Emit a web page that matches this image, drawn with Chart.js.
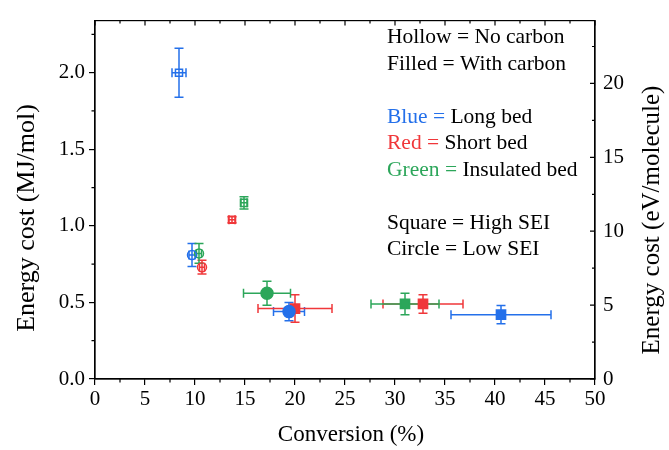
<!DOCTYPE html>
<html>
<head>
<meta charset="utf-8">
<script src="https://cdn.jsdelivr.net/npm/chart.js@4/dist/chart.umd.min.js"></script>
<style>
  html, body { margin: 0; padding: 0; background: #fff; }
  #wrap { width: 669px; height: 450px; }
</style>
</head>
<body>
<div id="wrap"><canvas id="costChart"></canvas></div>
<script>
// Data (one entry per point)
const bed = ['long', 'long', 'long', 'long', 'short', 'short', 'short', 'short', 'insulated', 'insulated', 'insulated', 'insulated'];
const withCarbon = [false, false, true, true, false, false, true, true, false, false, true, true];
const sei = ['high', 'low', 'low', 'high', 'high', 'low', 'high', 'high', 'high', 'low', 'low', 'high'];
const conversion = [8.4, 9.7, 19.4, 40.6, 13.7, 10.7, 20.0, 32.8, 14.9, 10.4, 17.2, 31.0];
const conversionErr = [0.7, 0.3, 1.55, 5.0, 0.3, 0.25, 3.7, 4.0, 0.3, 0.25, 2.35, 3.4];
const energyCost = [2.0, 0.81, 0.44, 0.42, 1.04, 0.73, 0.46, 0.49, 1.15, 0.82, 0.56, 0.49];
const energyErr = [0.16, 0.075, 0.06, 0.06, 0.02, 0.045, 0.09, 0.06, 0.04, 0.065, 0.078, 0.07];

const xTicks = [0, 5, 10, 15, 20, 25, 30, 35, 40, 45, 50];
const yTicks = [0.0, 0.5, 1.0, 1.5, 2.0];
const evTicks = [0, 5, 10, 15, 20];

const Y_MAX = 2.34;
const MJ_PER_EV = 0.096485; // 1 eV/molecule = 96.485 kJ/mol

const bedColors = { long: '#2470ea', short: '#f0373a', insulated: '#2ca65a' };
const bedNames = { long: 'Long bed', short: 'Short bed', insulated: 'Insulated bed' };

const datasets = Object.keys(bedColors).map(key => {
  const idx = bed.map((b, i) => b === key ? i : -1).filter(i => i >= 0);
  const col = bedColors[key];
  return {
    label: bedNames[key],
    data: idx.map(i => ({ x: conversion[i], y: energyCost[i], xErr: conversionErr[i], yErr: energyErr[i] })),
    pointStyle: idx.map(i => sei[i] === 'high' ? 'rect' : 'circle'),
    pointRadius: idx.map(i => sei[i] === 'high' ? (withCarbon[i] ? 6.5 : 5) : (withCarbon[i] ? 6 : 4.5)),
    backgroundColor: idx.map(i => withCarbon[i] ? col : 'rgba(0,0,0,0)'),
    borderColor: col,
    pointBorderWidth: 1.5,
    showLine: false
  };
});

// error bars drawn under the markers
const errorBars = {
  id: 'errorBars',
  beforeDatasetsDraw(chart) {
    const { ctx, scales: { x, y } } = chart;
    ctx.save();
    ctx.lineWidth = 1.5;
    const cap = 4.5;
    chart.data.datasets.forEach(ds => {
      ctx.strokeStyle = ds.borderColor;
      ds.data.forEach(p => {
        const px = x.getPixelForValue(p.x), py = y.getPixelForValue(p.y);
        const x0 = x.getPixelForValue(p.x - p.xErr), x1 = x.getPixelForValue(p.x + p.xErr);
        const y0 = y.getPixelForValue(p.y - p.yErr), y1 = y.getPixelForValue(p.y + p.yErr);
        ctx.beginPath();
        ctx.moveTo(x0, py); ctx.lineTo(x1, py);
        ctx.moveTo(x0, py - cap); ctx.lineTo(x0, py + cap);
        ctx.moveTo(x1, py - cap); ctx.lineTo(x1, py + cap);
        ctx.moveTo(px, y0); ctx.lineTo(px, y1);
        ctx.moveTo(px - cap, y0); ctx.lineTo(px + cap, y0);
        ctx.moveTo(px - cap, y1); ctx.lineTo(px + cap, y1);
        ctx.stroke();
      });
    });
    ctx.restore();
  }
};

function vTitle(ctx, text, cx, cy, size) {
  ctx.save();
  ctx.translate(cx, cy);
  ctx.rotate(-Math.PI / 2);
  ctx.font = size + 'px "Liberation Serif"';
  ctx.fillStyle = '#000';
  ctx.textAlign = 'center';
  ctx.textBaseline = 'middle';
  ctx.fillText(text, 0, 0);
  ctx.restore();
}

// frame, minor ticks, inward ticks on top / right, axis titles and key text
const frameTicks = {
  id: 'frameTicks',
  afterDraw(chart) {
    const { ctx, chartArea: a, scales: { x, y, y2 } } = chart;
    ctx.save();
    ctx.strokeStyle = '#000';
    ctx.lineWidth = 1.2;
    ctx.strokeRect(a.left, a.top, a.right - a.left, a.bottom - a.top);
    ctx.beginPath();
    xTicks.forEach((v, i) => {
      const px = x.getPixelForValue(v);
      ctx.moveTo(px, a.top); ctx.lineTo(px, a.top + 5);
      if (i < xTicks.length - 1) {
        const m = x.getPixelForValue(v + 2.5);
        ctx.moveTo(m, a.bottom); ctx.lineTo(m, a.bottom + 3.5);
        ctx.moveTo(m, a.top); ctx.lineTo(m, a.top + 3);
      }
    });
    yTicks.forEach(v => {
      const m = y.getPixelForValue(v + 0.25);
      ctx.moveTo(a.left, m); ctx.lineTo(a.left - 3.5, m);
    });
    evTicks.forEach(v => {
      const py = y2.getPixelForValue(v);
      ctx.moveTo(a.right, py); ctx.lineTo(a.right - 5, py);
      const m = y2.getPixelForValue(v + 2.5);
      ctx.moveTo(a.right, m); ctx.lineTo(a.right - 3, m);
    });
    ctx.stroke();

    // axis titles
    vTitle(ctx, 'Energy cost (MJ/mol)', 27, 218, 26);
    vTitle(ctx, 'Energy cost (eV/molecule)', 652, 220, 25);
    ctx.font = '23px "Liberation Serif"';
    ctx.fillStyle = '#000';
    ctx.textAlign = 'center';
    ctx.textBaseline = 'middle';
    ctx.fillText('Conversion (%)', 351, 435);

    // key text
    const lines = [
      [['Hollow = ', '#000'], ['No carbon', '#000']],
      [['Filled = ', '#000'], ['With carbon', '#000']],
      null,
      [['Blue = ', bedColors.long], ['Long bed', '#000']],
      [['Red = ', bedColors.short], ['Short bed', '#000']],
      [['Green = ', bedColors.insulated], ['Insulated bed', '#000']],
      null,
      [['Square = ', '#000'], ['High SEI', '#000']],
      [['Circle = ', '#000'], ['Low SEI', '#000']]
    ];
    ctx.font = '21.5px "Liberation Serif"';
    ctx.textAlign = 'left';
    let ty = a.top + 17;
    lines.forEach(l => {
      if (l) {
        let tx = a.left + 292;
        l.forEach(([t, c]) => {
          ctx.fillStyle = c;
          ctx.fillText(t, tx, ty);
          tx += ctx.measureText(t).width;
        });
      }
      ty += 26.5;
    });
    ctx.restore();
  }
};

const tickFont = { family: '"Liberation Serif"', size: 21 };

new Chart(document.getElementById('costChart'), {
  type: 'scatter',
  data: { datasets },
  options: {
    responsive: true,
    maintainAspectRatio: false,
    animation: false,
    layout: { padding: { top: 16 } },
    plugins: { legend: { display: false }, tooltip: { enabled: false } },
    scales: {
      x: {
        type: 'linear', min: 0, max: 50,
        afterBuildTicks: s => { s.ticks = xTicks.map(v => ({ value: v })); },
        afterFit: s => { s.height = 71; },
        ticks: { color: '#000', font: tickFont, padding: 2, maxRotation: 0 },
        grid: { drawOnChartArea: false, color: '#000', tickLength: 6, lineWidth: 1.2 },
        border: { color: '#000', width: 1.2 },
        title: { display: false }
      },
      y: {
        type: 'linear', min: 0, max: Y_MAX,
        afterBuildTicks: s => { s.ticks = yTicks.map(v => ({ value: v })); },
        afterFit: s => { s.width = 95; },
        ticks: { color: '#000', font: tickFont, padding: 4, callback: v => v.toFixed(1) },
        grid: { drawOnChartArea: false, color: '#000', tickLength: 6, lineWidth: 1.2 },
        border: { color: '#000', width: 1.2 },
        title: { display: false }
      },
      y2: {
        type: 'linear', position: 'right', min: 0, max: Y_MAX / MJ_PER_EV,
        afterBuildTicks: s => { s.ticks = evTicks.map(v => ({ value: v })); },
        afterFit: s => { s.width = 74; },
        ticks: { color: '#000', font: tickFont, padding: 8 },
        grid: { drawOnChartArea: false, drawTicks: false },
        border: { color: '#000', width: 1.2 },
        title: { display: false }
      }
    }
  },
  plugins: [errorBars, frameTicks]
});
</script>
</body>
</html>
